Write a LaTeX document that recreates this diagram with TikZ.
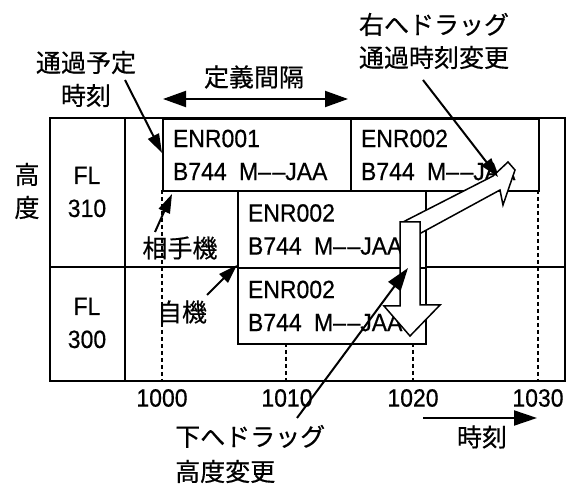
\documentclass[tikz,border=0pt]{standalone}
\usepackage{fontspec}
\setmainfont[FakeBold=0.5,FakeStretch=0.92]{Liberation Sans}
\newfontfamily\jp[FakeBold=0.5]{Noto Sans CJK JP}
\usetikzlibrary{arrows.meta}
\newcommand{\regno}{B744\kern4pt{} M–\kern1.5pt–JAA}
\begin{document}
\begin{tikzpicture}[x=1pt,y=-1pt,
  frame/.style={line width=2.2pt},
  dashline/.style={line width=1.8pt, dash pattern=on 4pt off 3pt},
  flbox/.style={draw, line width=2pt, fill=white, anchor=north west,
    minimum width=188pt, text width=168pt, inner xsep=10pt, inner ysep=0pt,
    align=left, font=\fontsize{25}{33}\selectfont},
  lat/.style={font=\fontsize{25}{33}\selectfont, inner sep=0pt, align=center},
  jpt/.style={font=\jp\fontsize{25}{33}\selectfont, inner sep=0pt, align=center},
  ann/.style={line width=2pt, -{Triangle[length=19pt,width=12pt]}},
  blockarrow/.style={draw, fill=white, line width=1.5pt, line join=miter},
]
\useasboundingbox (0,0) rectangle (576,486);
\fill[white] (0,0) rectangle (576,486);

% time grid (dashed)
\draw[dashline] (162,190) -- (162,381);
\draw[dashline] (286,343) -- (286,381);
\draw[dashline] (413,343) -- (413,381);
\draw[dashline] (538,190) -- (538,381);

% frame
\draw[frame] (50,118) rectangle (565,381);
\draw[frame] (125,118) -- (125,381);
\draw[frame] (50,267) -- (565,267);

% flight boxes
\node[flbox, minimum height=72pt] (b1) at (162,118) {ENR001\\\regno};
\node[flbox, minimum height=72pt] (b2) at (350,118) {ENR002\\\regno};
\node[flbox, minimum height=77pt] (b3) at (237,190) {ENR002\\\regno};
\node[flbox, minimum height=76pt] (b4) at (237,267) {ENR002\\\regno};

% block arrows
\path[blockarrow] (403,222) -- (493,176) -- (508,162) -- (515,170) -- (503,205)
  -- (500,190) -- (421,233) -- (410,240) -- cycle;
\path[blockarrow] (400,222) -- (420,222) -- (420,305) -- (440,305) -- (410,336)
  -- (384,306) -- (400,306) -- cycle;

% left labels
\node[jpt] (koudo) at (27,191) {高\\度};
\node[lat] (fl310) at (87,192) {FL\\310};
\node[lat] (fl300) at (87,323) {FL\\300};

% time labels
\node[lat] (t1000) at (162,398) {1000};
\node[lat] (t1010) at (287,398) {1010};
\node[lat] (t1020) at (413,398) {1020};
\node[lat] (t1030) at (538,398) {1030};
\node[jpt] (jikoku) at (482,437) {時刻};

% annotation labels
\node[jpt] (yotei) at (86,79) {通過予定\\時刻};
\node[jpt] (teigi) at (254,77) {定義間隔};
\node[jpt] (migi) at (434,41) {右へドラッグ\\通過時刻変更};
\node[jpt] (aite) at (180,248) {相手機};
\node[jpt] (jiki) at (182,312) {自機};
\node[jpt, align=left, anchor=west, font=\jp\fontsize{25}{35}\selectfont] (shita) at (175,454) {下へドラッグ\\高度変更};

% arrow end points
\coordinate (a1s) at (125,80);  \coordinate (a1e) at (162,153);
\coordinate (d1) at (163,99);   \coordinate (d2) at (348,99);
\coordinate (a2s) at (423,80);  \coordinate (a2e) at (498,177);
\coordinate (a3s) at (155,232); \coordinate (a3e) at (172,194);
\coordinate (a4s) at (207,295); \coordinate (a4e) at (237,265);
\coordinate (a5s) at (297,418); \coordinate (a5e) at (408,268);
\coordinate (a6s) at (423,418); \coordinate (a6e) at (537,418);

\draw[ann] (a1s) -- (a1e);
\draw[line width=2pt, {Triangle[length=23pt,width=16pt]}-{Triangle[length=23pt,width=16pt]}] (d1) -- (d2);
\draw[ann] (a2s) -- (a2e);
\draw[ann] (a3s) -- (a3e);
\draw[ann] (a4s) -- (a4e);
\draw[line width=2pt, -{Triangle[length=23pt,width=15pt]}] (a5s) -- (a5e);
\draw[line width=2pt, -{Triangle[length=23pt,width=15pt]}] (a6s) -- (a6e);
\end{tikzpicture}
\end{document}
